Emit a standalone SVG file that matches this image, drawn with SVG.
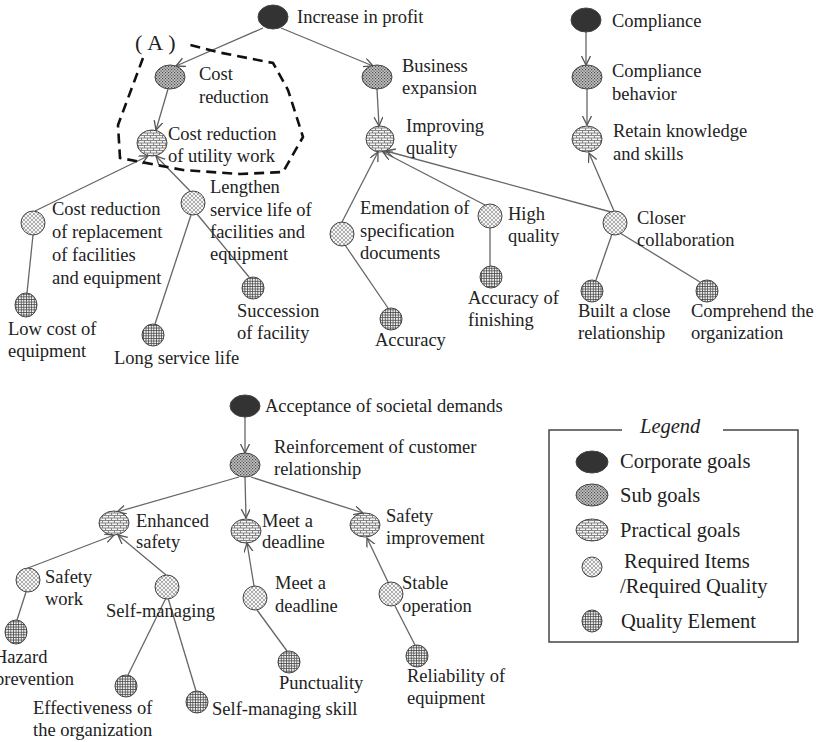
<svg xmlns="http://www.w3.org/2000/svg" width="822" height="742" viewBox="0 0 822 742">
<style>
text{font-family:"Liberation Serif","Times New Roman",serif;font-size:18.5px;fill:#222}
.lg{font-size:20.5px}
.ln{stroke:#666;stroke-width:1.3;fill:none}
.ar{marker-end:url(#arr)}
.n{stroke:#444;stroke-width:1}
.cg{fill:#333}
.sg{fill:url(#pSub)}
.pg{fill:url(#pBrick)}
.rq{fill:url(#pReq)}
.qe{fill:url(#pGrid)}
</style>
<defs>
<marker id="arr" markerUnits="userSpaceOnUse" markerWidth="12" markerHeight="12" refX="9" refY="4.5" orient="auto">
<path d="M0,0 L9,4.5 L0,9" fill="none" stroke="#555" stroke-width="1.3"/>
</marker>
<pattern id="pSub" patternUnits="userSpaceOnUse" width="3" height="3">
<rect width="3" height="3" fill="#c4c4c4"/>
<rect width="1.2" height="1.2" fill="#4a4a4a"/>
<rect x="1.5" y="1.5" width="1.2" height="1.2" fill="#4a4a4a"/>
</pattern>
<pattern id="pBrick" patternUnits="userSpaceOnUse" width="6" height="5">
<rect width="6" height="5" fill="#f4f4f4"/>
<path d="M0,0.5H6M0,3H6M0.5,0.5V3M3.5,3V5" stroke="#7a7a7a" stroke-width="0.9" fill="none"/>
</pattern>
<pattern id="pReq" patternUnits="userSpaceOnUse" width="4" height="4">
<rect width="4" height="4" fill="#f6f6f6"/>
<path d="M0,0L4,4M4,0L0,4" stroke="#9a9a9a" stroke-width="0.8" fill="none"/>
</pattern>
<pattern id="pGrid" patternUnits="userSpaceOnUse" width="2.6" height="2.6">
<rect width="2.6" height="2.6" fill="#f0f0f0"/>
<path d="M0,0.4H2.6M0.4,0V2.6" stroke="#444" stroke-width="0.8" fill="none"/>
</pattern>
</defs>
<rect width="822" height="742" fill="#fff"/>

<g id="connectors">
<line class="ln ar" x1="263" y1="28" x2="176" y2="66"/>
<line class="ln ar" x1="281" y1="28" x2="373" y2="66"/>
<line class="ln ar" x1="168" y1="89" x2="156" y2="130"/>
<line class="ln ar" x1="377" y1="89" x2="379" y2="126"/>
<line class="ln ar" x1="586" y1="32" x2="586" y2="65"/>
<line class="ln ar" x1="587" y1="89" x2="587" y2="125"/>
<line class="ln ar" x1="35" y1="211" x2="148" y2="156"/>
<line class="ln ar" x1="190" y1="191" x2="156" y2="156"/>
<line class="ln" x1="33" y1="235" x2="27" y2="293"/>
<line class="ln" x1="191" y1="215" x2="155" y2="324"/>
<line class="ln" x1="197" y1="214" x2="249" y2="277"/>
<line class="ln ar" x1="342" y1="222" x2="378" y2="152"/>
<line class="ln ar" x1="485" y1="205" x2="383" y2="152"/>
<line class="ln ar" x1="611" y1="212" x2="386" y2="151"/>
<line class="ln ar" x1="614" y1="211" x2="589" y2="153"/>
<line class="ln" x1="345" y1="245" x2="388" y2="308"/>
<line class="ln" x1="490" y1="228" x2="490" y2="266"/>
<line class="ln" x1="612" y1="234" x2="596" y2="280"/>
<line class="ln" x1="620" y1="233" x2="700" y2="282"/>
<line class="ln ar" x1="245" y1="417" x2="245" y2="453"/>
<line class="ln ar" x1="239" y1="477" x2="117" y2="512"/>
<line class="ln ar" x1="245" y1="477" x2="246" y2="518"/>
<line class="ln ar" x1="251" y1="477" x2="363" y2="513"/>
<line class="ln ar" x1="28" y1="568" x2="114" y2="535"/>
<line class="ln ar" x1="166" y1="575" x2="118" y2="535"/>
<line class="ln ar" x1="254" y1="586" x2="247" y2="543"/>
<line class="ln ar" x1="388" y1="582" x2="367" y2="538"/>
<line class="ln" x1="26" y1="592" x2="17" y2="620"/>
<line class="ln" x1="166" y1="598" x2="128" y2="675"/>
<line class="ln" x1="168" y1="598" x2="196" y2="691"/>
<line class="ln" x1="257" y1="610" x2="287" y2="651"/>
<line class="ln" x1="395" y1="606" x2="415" y2="645"/>
</g>

<g id="regionA">
<path d="M143,58 L118,125 L120,158 L183,170 L240,174 L283,172 L303,137 L288,90 L273,63 L217,52 L187,44" fill="none" stroke="#111" stroke-width="2.6" stroke-dasharray="10,6"/>
<text x="135" y="50" style="font-size:22px;letter-spacing:5px">(A)</text>
</g>

<g id="n-increase"><ellipse class="n cg" cx="273" cy="17" rx="15" ry="12"/><text x="297" y="23">Increase in profit</text></g>
<g id="n-costred"><ellipse class="n sg" cx="170" cy="77" rx="15" ry="12"/><text x="199" y="80">Cost</text><text x="199" y="103">reduction</text></g>
<g id="n-business"><ellipse class="n sg" cx="377" cy="77" rx="15" ry="12"/><text x="402" y="72">Business</text><text x="402" y="94">expansion</text></g>
<g id="n-utility"><ellipse class="n pg" cx="152" cy="143" rx="15" ry="13"/><text x="168" y="140">Cost reduction</text><text x="168" y="162">of utility work</text></g>
<g id="n-improving"><ellipse class="n pg" cx="380" cy="139" rx="14" ry="13"/><text x="406" y="132">Improving</text><text x="406" y="154">quality</text></g>
<g id="n-compliance"><ellipse class="n cg" cx="586" cy="20" rx="15" ry="12"/><text x="612" y="27">Compliance</text></g>
<g id="n-compbeh"><ellipse class="n sg" cx="587" cy="77" rx="15" ry="12"/><text x="612" y="77">Compliance</text><text x="612" y="100">behavior</text></g>
<g id="n-retain"><ellipse class="n pg" cx="587" cy="139" rx="15" ry="13"/><text x="613" y="137">Retain knowledge</text><text x="613" y="160">and skills</text></g>

<g id="n-replacement"><ellipse class="n rq" cx="33" cy="223" rx="12" ry="12"/><text x="52" y="215">Cost reduction</text><text x="52" y="238">of replacement</text><text x="52" y="261">of facilities</text><text x="52" y="284">and equipment</text></g>
<g id="n-lengthen"><ellipse class="n rq" cx="193" cy="203" rx="12" ry="12"/><text x="210" y="193">Lengthen</text><text x="210" y="216">service life of</text><text x="210" y="238">facilities and</text><text x="210" y="260">equipment</text></g>
<g id="n-lowcost"><ellipse class="n qe" cx="26" cy="305" rx="11" ry="12"/><text x="8" y="335">Low cost of</text><text x="8" y="357">equipment</text></g>
<g id="n-longlife"><ellipse class="n qe" cx="153" cy="335" rx="11" ry="11"/><text x="114" y="364">Long service life</text></g>
<g id="n-succession"><ellipse class="n qe" cx="253" cy="288" rx="11" ry="11"/><text x="237" y="317">Succession</text><text x="237" y="339">of facility</text></g>
<g id="n-emendation"><ellipse class="n rq" cx="342" cy="234" rx="12" ry="12"/><text x="360" y="214">Emendation of</text><text x="360" y="237">specification</text><text x="360" y="259">documents</text></g>
<g id="n-highq"><ellipse class="n rq" cx="490" cy="216" rx="12" ry="12"/><text x="508" y="220">High</text><text x="508" y="242">quality</text></g>
<g id="n-closer"><ellipse class="n rq" cx="615" cy="223" rx="12" ry="12"/><text x="637" y="224">Closer</text><text x="637" y="246">collaboration</text></g>
<g id="n-accuracy"><ellipse class="n qe" cx="391" cy="319" rx="11" ry="11"/><text x="375" y="346">Accuracy</text></g>
<g id="n-accfin"><ellipse class="n qe" cx="491" cy="277" rx="11" ry="11"/><text x="468" y="304">Accuracy of</text><text x="468" y="326">finishing</text></g>
<g id="n-built"><ellipse class="n qe" cx="592" cy="291" rx="11" ry="11"/><text x="578" y="317">Built a close</text><text x="578" y="339">relationship</text></g>
<g id="n-comprehend"><ellipse class="n qe" cx="707" cy="291" rx="11" ry="11"/><text x="691" y="317">Comprehend the</text><text x="691" y="339">organization</text></g>

<g id="n-acceptance"><ellipse class="n cg" cx="245" cy="406" rx="15" ry="11"/><text x="265" y="412">Acceptance of societal demands</text></g>
<g id="n-reinforce"><ellipse class="n sg" cx="245" cy="465" rx="15" ry="12"/><text x="274" y="453">Reinforcement of customer</text><text x="274" y="475">relationship</text></g>
<g id="n-enhanced"><ellipse class="n pg" cx="114" cy="523" rx="15" ry="12"/><text x="136" y="527">Enhanced</text><text x="136" y="548">safety</text></g>
<g id="n-meet1"><ellipse class="n pg" cx="246" cy="531" rx="15" ry="12"/><text x="262" y="527">Meet a</text><text x="262" y="548">deadline</text></g>
<g id="n-safetyimp"><ellipse class="n pg" cx="365" cy="525" rx="15" ry="12"/><text x="386" y="522">Safety</text><text x="386" y="544">improvement</text></g>
<g id="n-safetywork"><ellipse class="n rq" cx="28" cy="580" rx="12" ry="12"/><text x="45" y="583">Safety</text><text x="45" y="605">work</text></g>
<g id="n-selfman"><ellipse class="n rq" cx="167" cy="587" rx="12" ry="12"/><text x="106" y="617">Self-managing</text></g>
<g id="n-meet2"><ellipse class="n rq" cx="255" cy="598" rx="12" ry="12"/><text x="275" y="589">Meet a</text><text x="275" y="612">deadline</text></g>
<g id="n-stable"><ellipse class="n rq" cx="391" cy="594" rx="12" ry="12"/><text x="402" y="589">Stable</text><text x="402" y="612">operation</text></g>
<g id="n-hazard"><ellipse class="n qe" cx="16" cy="632" rx="11" ry="12"/><text x="-6" y="663">Hazard</text><text x="-5" y="685">prevention</text></g>
<g id="n-effect"><ellipse class="n qe" cx="126" cy="686" rx="11" ry="11"/><text x="33" y="714">Effectiveness of</text><text x="33" y="736">the organization</text></g>
<g id="n-skill"><ellipse class="n qe" cx="197" cy="702" rx="11" ry="11"/><text x="212" y="715">Self-managing skill</text></g>
<g id="n-punct"><ellipse class="n qe" cx="289" cy="662" rx="11" ry="11"/><text x="279" y="689">Punctuality</text></g>
<g id="n-reliab"><ellipse class="n qe" cx="417" cy="656" rx="11" ry="11"/><text x="407" y="682">Reliability of</text><text x="407" y="704">equipment</text></g>

<g id="legend">
<path d="M622,430 H549 V642 H798 V430 H723" fill="none" stroke="#444" stroke-width="1.5"/>
<text class="lg" x="640" y="433" font-style="italic">Legend</text>
<ellipse class="n cg" cx="592" cy="462" rx="16" ry="11"/><text class="lg" x="620" y="468">Corporate goals</text>
<ellipse class="n sg" cx="592" cy="495" rx="16" ry="11"/><text class="lg" x="620" y="502">Sub goals</text>
<ellipse class="n pg" cx="592" cy="530" rx="16" ry="11"/><text class="lg" x="620" y="537">Practical goals</text>
<ellipse class="n rq" cx="592" cy="567" rx="10" ry="10"/><text class="lg" x="624" y="568">Required Items</text><text class="lg" x="620" y="593">/Required Quality</text>
<ellipse class="n qe" cx="592" cy="621" rx="10" ry="11"/><text class="lg" x="621" y="628">Quality Element</text>
</g>
</svg>
